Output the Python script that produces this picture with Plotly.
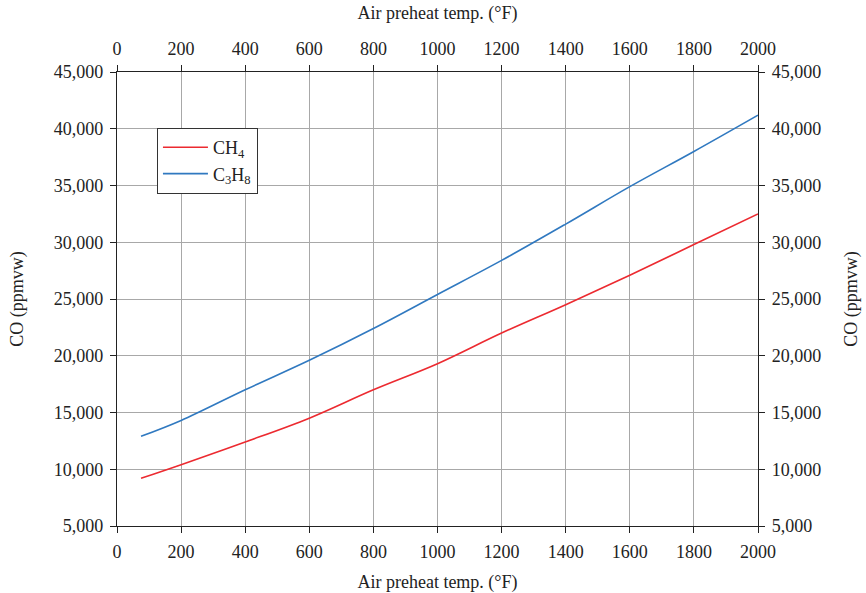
import plotly.graph_objects as go

temp_f = [75, 200, 400, 600, 800, 1000, 1200, 1400, 1600, 1800, 2000]
co_ch4 = [9200, 10400, 12400, 14500, 17000, 19300, 22000, 24500, 27100, 29800, 32500]
co_c3h8 = [12900, 14300, 17000, 19600, 22400, 25400, 28400, 31600, 34900, 38000, 41200]

x_ticks = list(range(0, 2001, 200))
y_ticks = list(range(5000, 45001, 5000))

FONT = "Liberation Serif"
FS = 18
fig = go.Figure()
fig.add_trace(go.Scatter(x=temp_f, y=co_ch4, mode="lines", name="CH<sub>4</sub>",
                         line=dict(color="#ec2a30", width=1.6, shape="spline")))
fig.add_trace(go.Scatter(x=temp_f, y=co_c3h8, mode="lines", name="C<sub>3</sub>H<sub>8</sub>",
                         line=dict(color="#3079c0", width=1.6, shape="spline")))
fig.add_trace(go.Scatter(x=temp_f, y=co_c3h8, xaxis="x2", yaxis="y2", mode="lines",
                         showlegend=False, hoverinfo="skip", line=dict(width=0), opacity=0))

axcommon = dict(showline=True, linecolor="#222", linewidth=1.3, ticks="outside",
                ticklen=6, tickcolor="#222", showgrid=True, gridcolor="#a8a8a8",
                gridwidth=1, zeroline=False, ticklabelstandoff=3, automargin=False,
                tickfont=dict(family=FONT, size=FS, color="#222"))

fig.update_layout(
    width=866, height=593,
    margin=dict(l=117, r=108, t=72, b=67),
    paper_bgcolor="white", plot_bgcolor="white",
    font=dict(family=FONT, size=FS, color="#222"),
    xaxis=dict(range=[0, 2000], tickvals=x_ticks,
               title=dict(text="Air preheat temp. (°F)", font=dict(family=FONT, size=FS), standoff=14),
               **axcommon),
    xaxis2=dict(range=[0, 2000], tickvals=x_ticks, overlaying="x", side="top",
                title=dict(text="Air preheat temp. (°F)", font=dict(family=FONT, size=FS), standoff=14),
                **axcommon),
    yaxis=dict(range=[5000, 45000], tickvals=y_ticks, tickformat=",d",
               title=dict(text="CO (ppmvw)", font=dict(family=FONT, size=FS), standoff=25),
               **axcommon),
    yaxis2=dict(range=[5000, 45000], tickvals=y_ticks, tickformat=",d", overlaying="y", side="right",
                title=dict(text="CO (ppmvw)", font=dict(family=FONT, size=FS), standoff=24),
                **axcommon),
    legend=dict(x=0.062, y=0.877, xanchor="left", yanchor="top",
                bgcolor="white", bordercolor="#333", borderwidth=1.2,
                font=dict(family=FONT, size=FS, color="#222"),
                itemwidth=45, tracegroupgap=0),
    showlegend=True,
)

fig.write_html("out.html")
